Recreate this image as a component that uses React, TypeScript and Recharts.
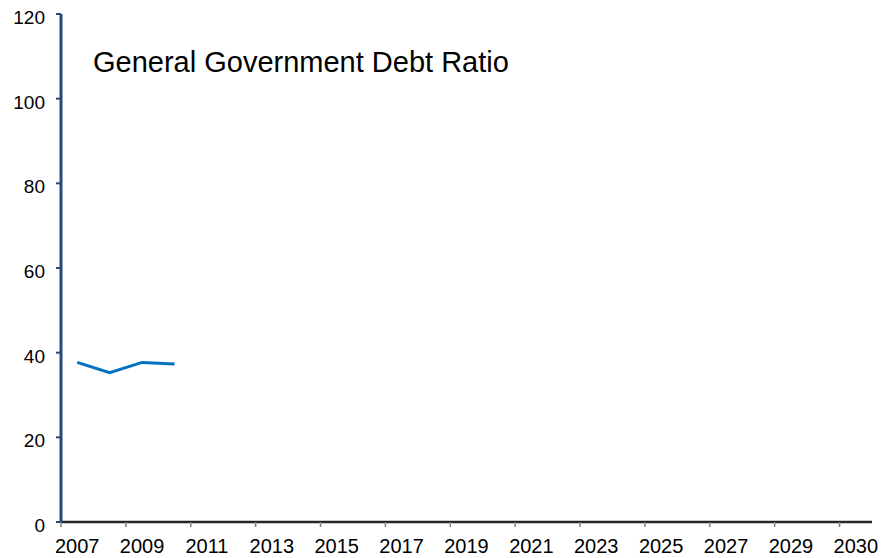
import { LineChart, Line, XAxis, YAxis } from "recharts"

const years = [
  "2007", "2008", "2009", "2010", "2011", "2012", "2013", "2014", "2015",
  "2016", "2017", "2018", "2019", "2020", "2021", "2022", "2023", "2024",
  "2025", "2026", "2027", "2028", "2029", "2030", "2031",
]
const debtRatio: Array<number | null> = [37.7, 35.3, 37.7, 37.3]
const xTickLabels = [
  "2007", "2009", "2011", "2013", "2015", "2017", "2019",
  "2021", "2023", "2025", "2027", "2029", "2030",
]
const yTicks = [0, 20, 40, 60, 80, 100, 120]

const data = years.map((year, i) => ({
  year,
  value: i < debtRatio.length ? debtRatio[i] : null,
}))

const FONT = "'Liberation Sans', Arial, sans-serif"

const XTick = ({ x, y, payload }: any) => {
  const i = payload.index
  if (i % 2 !== 0) return null
  const half = payload.offset || 16.2
  return (
    <g>
      <line x1={x - half} y1={y} x2={x - half} y2={y + 5} stroke="#808080" strokeWidth={1.5} />
      <text x={x} y={y + 31} textAnchor="middle" fontSize={20} fontFamily={FONT} fill="#000">
        {xTickLabels[i / 2]}
      </text>
    </g>
  )
}

const YTick = ({ x, y, payload }: any) => (
  <text x={x} y={y + 10} textAnchor="end" fontSize={19} fontFamily={FONT} fill="#000">
    {payload.value}
  </text>
)

export default function App() {
  return (
    <div style={{ position: "absolute", left: 0, top: 0, background: "#fff" }}>
      <LineChart
        width={883}
        height={558}
        data={data}
        margin={{ top: 14, right: 11, bottom: 0, left: 0 }}
      >
        <XAxis
          dataKey="year"
          xAxisId="bottom"
          scale="band"
          interval={0}
          height={36}
          tickSize={0}
          tickMargin={0}
          tickLine={false}
          axisLine={{ stroke: "#262626", strokeWidth: 2.5 }}
          tick={<XTick />}
        />
        <XAxis
          dataKey="year"
          xAxisId="top"
          scale="band"
          orientation="top"
          height={0}
          tick={false}
          tickLine={false}
          axisLine={{ stroke: "#000", strokeWidth: 3 }}
        />
        <YAxis
          yAxisId="left"
          domain={[0, 120]}
          ticks={yTicks}
          width={61}
          tickSize={5}
          tickMargin={11}
          tickLine={{ stroke: "#254a7c", strokeWidth: 2 }}
          axisLine={{ stroke: "#254a7c", strokeWidth: 3 }}
          tick={<YTick />}
        />
        <YAxis
          yAxisId="right"
          orientation="right"
          domain={[0, 120]}
          width={0}
          tick={false}
          tickLine={false}
          axisLine={{ stroke: "#000", strokeWidth: 3 }}
        />
        <text x={93} y={72} fontSize={29} fontFamily={FONT} fill="#000">
          General Government Debt Ratio
        </text>
        <Line
          xAxisId="bottom"
          yAxisId="left"
          dataKey="value"
          type="linear"
          stroke="#0070c0"
          strokeWidth={3}
          dot={false}
          activeDot={false}
          connectNulls={false}
          isAnimationActive={false}
        />
      </LineChart>
    </div>
  )
}
